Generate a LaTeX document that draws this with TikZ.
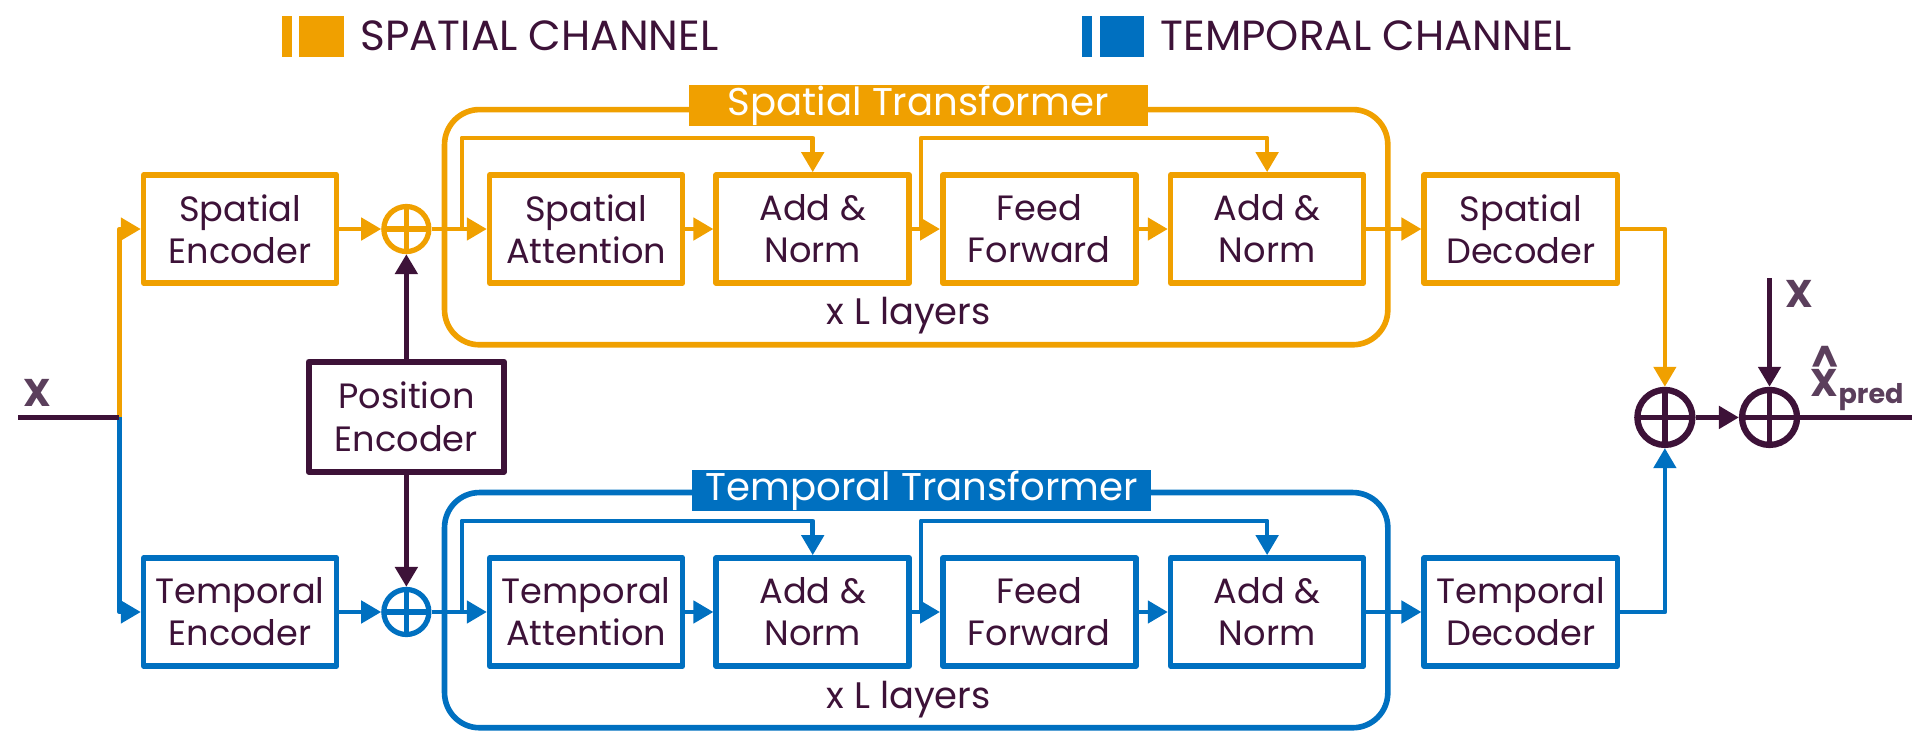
\documentclass[tikz,border=0pt]{standalone}
\usepackage{fontspec}
\setmainfont{Poppins}
\usetikzlibrary{arrows.meta}
\definecolor{sorange}{HTML}{F0A000}
\definecolor{tblue}{HTML}{0070C0}
\definecolor{dpurple}{HTML}{3D1238}
\definecolor{xpurple}{HTML}{5B3F5C}
\tikzset{
  blk/.style={draw, line width=1.6pt, minimum width=1.93cm, minimum height=1.08cm,
    inner sep=0pt, align=center, text=dpurple, font=\fontsize{10}{12}\selectfont},
  sblk/.style={blk, draw=sorange},
  tblk/.style={blk, draw=tblue},
  pblk/.style={blk, draw=dpurple, line width=1.8pt, minimum width=1.95cm, minimum height=1.1cm},
  addop/.style={circle, draw, line width=1.5pt, minimum size=#1, inner sep=0pt,
    path picture={\draw[line width=1.5pt] (path picture bounding box.north) -- (path picture bounding box.south)
      (path picture bounding box.west) -- (path picture bounding box.east);}},
  addop/.default=0.45cm,
  outop/.style={addop=0.55cm, dpurple, line width=1.8pt},
  sline/.style={sorange, line width=1.3pt},
  tline/.style={tblue, line width=1.3pt},
  pline/.style={dpurple, line width=1.5pt},
  trans/.style={line width=1.6pt, rounded corners=0.35cm},
  ttl/.style={minimum width=4.59cm, minimum height=0.41cm, inner sep=0pt, text=white,
    font=\fontsize{11}{13}\selectfont},
  lyr/.style={text=dpurple, font=\fontsize{10.5}{12}\selectfont},
  legtext/.style={anchor=west, inner sep=0pt, text=dpurple, font=\fontsize{12}{14}\selectfont},
  xlab/.style={text=xpurple, font=\fontsize{11}{13}\selectfont\bfseries}
}
\begin{document}
\begin{tikzpicture}[x=1.2314cm, y=1.2314cm, >={Triangle[length=2mm,width=2.2mm]}, line join=round]
\def\ys{4.15} \def\yt{1.04} \def\rs{0.74}
\useasboundingbox (0,0) rectangle (15.6,6.01);
% legend
\fill[sorange] (2.29,5.55) rectangle (2.37,5.88);
\fill[sorange] (2.43,5.55) rectangle (2.79,5.88);
\node[legtext] (sleg) at (2.92,5.72) {SPATIAL CHANNEL};
\fill[tblue] (8.79,5.55) rectangle (8.87,5.88);
\fill[tblue] (8.93,5.55) rectangle (9.29,5.88);
\node[legtext] (tleg) at (9.42,5.72) {TEMPORAL CHANNEL};
% transformer frames
\draw[trans, sorange] (3.61,3.21) rectangle (11.27,5.12);
\node[ttl, fill=sorange] (sttl) at (7.455,5.155) {Spatial Transformer};
\node[lyr] (slyr) at (7.38,3.45) {x L layers};
\draw[trans, tblue] (3.61,0.10) rectangle (11.27,2.01);
\node[ttl, fill=tblue] (tttl) at (7.485,2.025) {Temporal Transformer};
\node[lyr] (tlyr) at (7.38,0.33) {x L layers};
% spatial channel
\node[sblk] (senc) at (1.95,\ys) {Spatial\\Encoder};
\node[addop, sorange] (sadd) at (3.30,\ys) {};
\node[sblk] (satt) at (4.76,\ys) {Spatial\\Attention};
\node[sblk] (san1) at (6.60,\ys) {Add \&\\Norm};
\node[sblk] (sff) at (8.44,\ys) {Feed\\Forward};
\node[sblk] (san2) at (10.29,\ys) {Add \&\\Norm};
\node[sblk] (sdec) at (12.35,\ys) {Spatial\\Decoder};
% temporal channel
\node[tblk] (tenc) at (1.95,\yt) {Temporal\\Encoder};
\node[addop, tblue] (tadd) at (3.30,\yt) {};
\node[tblk] (tatt) at (4.76,\yt) {Temporal\\Attention};
\node[tblk] (tan1) at (6.60,\yt) {Add \&\\Norm};
\node[tblk] (tff) at (8.44,\yt) {Feed\\Forward};
\node[tblk] (tan2) at (10.29,\yt) {Add \&\\Norm};
\node[tblk] (tdec) at (12.35,\yt) {Temporal\\Decoder};
\node[pblk] (penc) at (3.30,2.625) {Position\\Encoder};
% input
\coordinate (xin) at (0.15,2.62);
\coordinate (xsplit) at (0.97,2.62);
\draw[sline,->] (xsplit) |- (senc.west);
\draw[tline,->] (xsplit) |- (tenc.west);
\draw[pline] (xin) -- (xsplit);
\node[xlab] (xl) at (0.30,2.82) {X};
\draw[pline,->] (penc) -- (sadd);
\draw[pline,->] (penc) -- (tadd);
% spatial links
\coordinate (sres1) at (3.75,\ys);
\coordinate (sres2) at (7.48,\ys);
\draw[sline,->] (senc) -- (sadd);
\draw[sline,->] (sadd) -- (satt);
\draw[sline,->] (sres1) -- ++(0,\rs) -| (san1.north);
\draw[sline,->] (satt) -- (san1);
\draw[sline,->] (san1) -- (sff);
\draw[sline,->] (sres2) -- ++(0,\rs) -| (san2.north);
\draw[sline,->] (sff) -- (san2);
\draw[sline,->] (san2) -- (sdec);
% temporal links
\coordinate (tres1) at (3.75,\yt);
\coordinate (tres2) at (7.48,\yt);
\draw[tline,->] (tenc) -- (tadd);
\draw[tline,->] (tadd) -- (tatt);
\draw[tline,->] (tres1) -- ++(0,\rs) -| (tan1.north);
\draw[tline,->] (tatt) -- (tan1);
\draw[tline,->] (tan1) -- (tff);
\draw[tline,->] (tres2) -- ++(0,\rs) -| (tan2.north);
\draw[tline,->] (tff) -- (tan2);
\draw[tline,->] (tan2) -- (tdec);
% output
\node[outop] (oadd1) at (13.52,2.62) {};
\node[outop] (oadd2) at (14.37,2.62) {};
\draw[sline,->] (sdec.east) -| (oadd1.north);
\draw[tline,->] (tdec.east) -| (oadd1.south);
\draw[pline,->] (oadd1) -- (oadd2);
\coordinate (xtop) at (14.37,3.75);
\draw[pline,->] (xtop) -- (oadd2.north);
\node[xlab] (xl2) at (14.61,3.62) {X};
\coordinate (xout) at (15.53,2.62);
\draw[pline] (oadd2.east) -- (xout);
\node[xlab, anchor=base west, inner sep=0pt] (xpred) at (14.70,2.79)
  {\ooalign{X\cr\hidewidth\raisebox{0.6em}{\textasciicircum}\hidewidth\cr}\textsubscript{pred}};
\end{tikzpicture}
\end{document}
